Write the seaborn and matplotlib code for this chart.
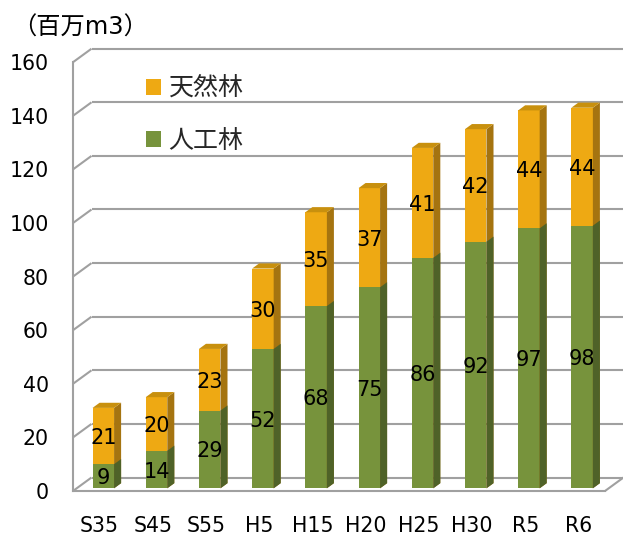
import numpy as np
import pandas as pd
import matplotlib
matplotlib.use('Agg')
import matplotlib.pyplot as plt
import seaborn as sns
from matplotlib.patches import Polygon, Patch

# ---- data ----
categories = ['S35', 'S45', 'S55', 'H5', 'H15', 'H20', 'H25', 'H30', 'R5', 'R6']
planted = [9, 14, 29, 52, 68, 75, 86, 92, 97, 98]      # 人工林
natural = [21, 20, 23, 30, 35, 37, 41, 42, 44, 44]     # 天然林
y_ticks = [0, 20, 40, 60, 80, 100, 120, 140, 160]
unit_label = '（百万m3）'
legend_labels = ['天然林', '人工林']

# ---- style ----
ORANGE = '#EEA913'
ORANGE_SIDE = '#A57410'
ORANGE_TOP = '#C8900E'
GREEN = '#77933C'
GREEN_SIDE = '#4F6228'
GRID = '#A0A0A0'

sns.set_style('white')
plt.rcParams['font.family'] = ['DejaVu Sans', 'Noto Sans CJK JP']

W, H = 623, 536
fig = plt.figure(figsize=(W / 100, H / 100), dpi=100)
L, R = 73, 605
B = 491
T = B - 160 * 2.68
ax = fig.add_axes([L / W, 1 - B / H, (R - L) / W, (B - T) / H])

totals = [p + n for p, n in zip(planted, natural)]
df = pd.DataFrame({'cat': categories, 'planted': planted,
                   'natural': natural, 'total': totals})

BAR_W = 0.405
sns.barplot(data=df, x='cat', y='total', color=ORANGE, saturation=1,
            width=BAR_W, linewidth=0, ax=ax)
sns.barplot(data=df, x='cat', y='planted', color=GREEN, saturation=1,
            width=BAR_W, linewidth=0, ax=ax)
ax.set_xlim(-0.5, len(categories) - 0.5)
ax.set_ylim(y_ticks[0], y_ticks[-1])
ax.set_xlabel('')
ax.set_ylabel('')

# pixel scale -> data units for the oblique depth direction
sx = (R - L) / len(categories)
sy = (B - T) / (y_ticks[-1] - y_ticks[0])
DEPTH_X, DEPTH_Y = 18.5, 13.5


def depth(d):
    return d * DEPTH_X / sx, d * DEPTH_Y / sy


D_FRONT, D_BACK = 0.2, 0.58
fx, fy = depth(D_FRONT)
dx, dy = depth(D_BACK - D_FRONT)

n = len(categories)
bars = list(ax.patches)
orange_bars = bars[:n]
green_bars = bars[n:2 * n]

for group, side_col, top_col in ((orange_bars, ORANGE_SIDE, ORANGE_TOP),
                                  (green_bars, GREEN_SIDE, None)):
    for p in group:
        p.set_x(p.get_x() + fx)
        p.set_y(p.get_y() + fy)
        x0 = p.get_x()
        x1 = x0 + p.get_width()
        y0 = p.get_y()
        y1 = y0 + p.get_height()
        side = Polygon([(x1, y0), (x1, y1), (x1 + dx, y1 + dy), (x1 + dx, y0 + dy)],
                       closed=True, facecolor=side_col, edgecolor='none',
                       zorder=1, clip_on=False)
        ax.add_patch(side)
        if top_col is not None:
            top = Polygon([(x0, y1), (x1, y1), (x1 + dx, y1 + dy), (x0 + dx, y1 + dy)],
                          closed=True, facecolor=top_col, edgecolor='none',
                          zorder=1, clip_on=False)
            ax.add_patch(top)

# back wall gridlines and side-wall diagonals
LW = 1.5
bx, by = depth(1.0)
x_left, x_right = -0.5, n - 0.5
for v in y_ticks:
    ax.plot([x_left, x_left + bx], [v, v + by], color=GRID, lw=LW,
            clip_on=False, zorder=0.5, solid_capstyle='butt')
    ax.plot([x_left + bx, x_right + bx], [v + by, v + by], color=GRID, lw=LW,
            clip_on=False, zorder=0.5, solid_capstyle='butt')
ax.plot([x_right, x_right + bx], [y_ticks[0], y_ticks[0] + by], color=GRID,
        lw=LW, clip_on=False, zorder=0.5, solid_capstyle='butt')

# spines / ticks
for s in ('top', 'right'):
    ax.spines[s].set_visible(False)
for s in ('left', 'bottom'):
    ax.spines[s].set_color(GRID)
    ax.spines[s].set_linewidth(LW)

ax.set_yticks(y_ticks)
ax.set_yticklabels([str(v) for v in y_ticks])
ax.tick_params(axis='y', direction='in', length=6.5, width=LW, color=GRID,
               pad=17.5, labelsize=14.8, labelcolor='black')
ax.set_xticks(range(n))
ax.set_xticklabels(categories)
ax.tick_params(axis='x', which='major', length=0, pad=18, labelsize=14.8,
               labelcolor='black')
ax.set_xticks(np.arange(0.5, n, 1.0), minor=True)
ax.tick_params(axis='x', which='minor', direction='in', length=3.8, width=LW,
               color=GRID)

# value labels
for i in range(n):
    cx = i + fx
    ax.text(cx, planted[i] / 2 + fy, str(planted[i]), ha='center',
            va='center_baseline', fontsize=15, color='black', zorder=5)
    ax.text(cx, planted[i] + natural[i] / 2 + fy, str(natural[i]), ha='center',
            va='center_baseline', fontsize=15, color='black', zorder=5)

# unit label
fig.text(12 / W, 1 - 25 / H, unit_label, fontsize=17.5, ha='left',
         va='center_baseline', color='black')

# legend
handles = [Patch(facecolor=ORANGE, edgecolor='none'),
           Patch(facecolor=GREEN, edgecolor='none')]
ax.legend(handles, legend_labels, loc='upper left',
          bbox_to_anchor=(146 / W, 1 - 77 / H), bbox_transform=fig.transFigure,
          frameon=False, fontsize=18, handlelength=0.6, handleheight=0.6,
          handletextpad=0.3, labelspacing=1.1, borderpad=0, borderaxespad=0)

fig.savefig('out.png', dpi=100)
